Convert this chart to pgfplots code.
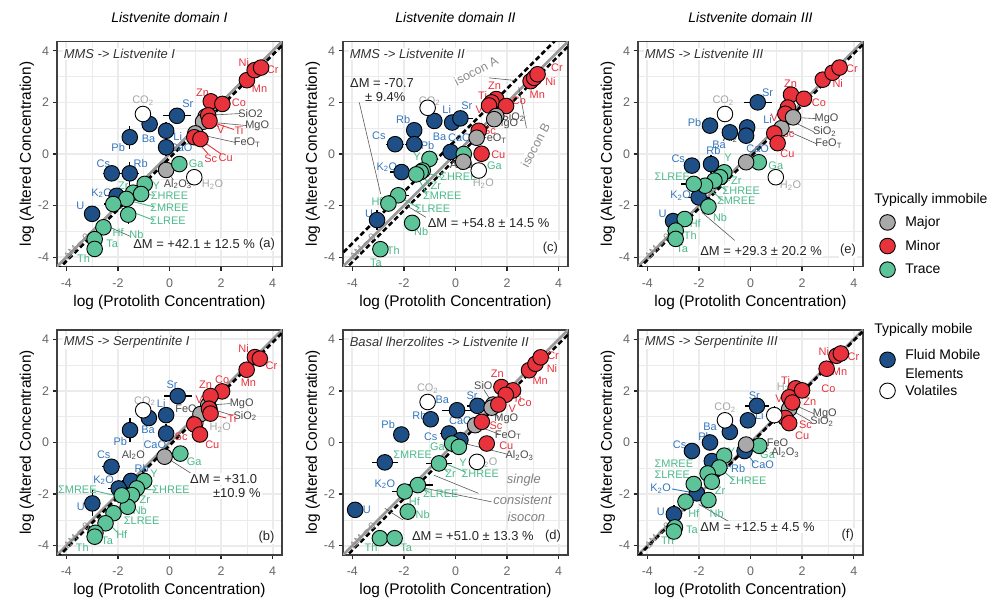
\documentclass[border=0pt]{standalone}
\usepackage{fontspec}
\setmainfont{Liberation Sans}
\usepackage{pgfplots}
\pgfplotsset{compat=1.18}
\usepackage{pgfplotstable}
\definecolor{cMaj}{HTML}{A9A9A9}
\definecolor{cMin}{HTML}{E8323C}
\definecolor{cTr}{HTML}{5DC49A}
\definecolor{cFl}{HTML}{1E4F86}
\definecolor{tFl}{HTML}{3576BD}
\definecolor{tTr}{HTML}{4CB98B}
\definecolor{tMin}{HTML}{E8313B}
\definecolor{tGr}{HTML}{A6A6A6}
\definecolor{tDk}{HTML}{4A4A4A}
\newcommand\sub[1]{\textsubscript{#1}}
\newcommand\lb[4]{\node[lbl,text=#1] at (axis cs:#2,#3) {#4};}
\tikzset{lbl/.style={font=\fontsize{11}{12}\selectfont, inner sep=0pt},
  ldk/.style={draw=black!65, line width=0.6bp},
  lrd/.style={draw=tMin, line width=0.9bp},
  lgr/.style={draw=tTr, line width=0.9bp},
  lbl2/.style={draw=tFl, line width=0.9bp},
  dmtxt/.style={fill=white, inner sep=1.5bp, font=\fontsize{13}{15}\selectfont, text=black!85},
  sub/.style={fill=white, inner sep=1bp, anchor=west, font=\fontsize{13}{15}\selectfont\itshape, text=black!80},
  zlab/.style={rotate=45, font=\fontsize{10}{11}\selectfont, text=black!45}}
\pgfplotsset{
  pan/.style={
    scale only axis, width=225bp, height=225bp, anchor=north west,
    xmin=-4.36, xmax=4.36, ymin=-4.36, ymax=4.36,
    xtick={-4,-2,0,2,4}, ytick={-4,-2,0,2,4},
    minor xtick={-3,-1,1,3}, minor ytick={-3,-1,1,3},
    grid=both,
    major grid style={draw=black!8, line width=1.7bp},
    minor grid style={draw=black!8, line width=0.8bp},
    axis line style={draw=black!75, line width=1.3bp},
    tick pos=left, tick align=outside,
    major tick length=4.5bp, minor tick length=0pt,
    major tick style={draw=black!85, line width=1.3bp},
    tick label style={font=\fontsize{12.5}{14}\selectfont, text=black!60},
    xticklabel style={yshift=-4bp},
    /pgf/number format/assume math mode=true,
    xlabel={log (Protolith Concentration)},
    ylabel={log (Altered Concentration)},
    label style={font=\fontsize{15.5}{17}\selectfont},
    xlabel style={yshift=-1bp}, ylabel style={yshift=-3bp},
    title style={at={(0.5,1)}, anchor=south, yshift=9bp, font=\fontsize{14}{16}\selectfont\itshape},
    clip=true,
  },
  pts/.style={forget plot, scatter, only marks, scatter src=explicit symbolic, mark size=7.8bp,
    scatter/classes={
      J={mark=*, draw=black, fill=cMaj, line width=0.9bp},
      N={mark=*, draw=black, fill=cMin, line width=0.9bp},
      T={mark=*, draw=black, fill=cTr, line width=0.9bp},
      F={mark=*, draw=black, fill=cFl, line width=0.9bp},
      V={mark=*, draw=black, fill=white, line width=0.9bp}}},
  ebs/.style={forget plot, only marks, mark=none, error bars/.cd, x dir=both, y dir=both,
    x explicit, y explicit, error mark=none, error bar style={line width=1.3bp, draw=black}},
  zero/.style={forget plot, draw=black!40, line width=2.6bp},
  iso/.style={forget plot, draw=black, line width=2.6bp, dash pattern=on 5bp off 3bp},
  lgm/.style={only marks, mark=*, mark size=7.8bp, mark options={draw=black, fill=#1, line width=0.9bp}},
  lgd/.style={legend style={at={#1}, anchor=north west, draw=none, fill=none,
     font=\fontsize{14}{16}\selectfont, row sep=8bp,
     /tikz/every odd column/.append style={column sep=8bp}}, legend cell align=left},
}
% ---------------- data: x y ex ey class ----------------
\pgfplotstableread{
x y ex ey c
-0.13 0.26 0 0.35 F
-0.13 0.90 0 0.35 F
0.29 1.48 0.55 0.15 F
-0.77 1.16 0.25 0 F
-1.54 0.65 0 0.45 F
-2.24 -0.75 0.35 0 F
-1.54 -0.75 0.35 0.45 F
-2.05 -1.62 0.45 0 F
-3.00 -2.32 0 0 F
-1.03 1.55 0 0 V
0.96 -0.90 0 0 V
-0.13 -0.62 0 0.2 J
1.40 1.45 0 0 J
1.30 1.25 0 0 J
1.00 0.80 0 0 J
0.38 -0.39 0 0 T
-0.96 -1.16 0.2 0.2 T
-1.41 -1.50 0 0 T
-1.10 -1.55 0 0 T
-1.67 -1.74 0 0 T
-2.18 -1.94 0.35 0 T
-1.60 -2.35 0 0.35 T
-2.56 -2.84 0 0 T
-2.90 -3.30 0 0 T
-2.90 -3.68 0 0 T
1.60 2.04 0 0.25 N
2.05 1.94 0 0 N
1.50 1.50 0 0 N
1.55 1.28 0 0 N
0.96 0.65 0 0 N
1.20 0.58 0 0 N
3.00 2.86 0 0 N
3.30 3.25 0 0 N
3.55 3.35 0 0 N
}\tA
\pgfplotstableread{
x y ex ey c
-0.13 0.35 0 0.35 F
-0.13 1.06 0 0.3 F
0.32 1.80 0.55 0.25 F
-0.80 0.95 0 0 F
-1.53 0.48 0 0.45 F
-2.25 -0.94 0.35 0 F
-1.49 -1.49 0.35 0.3 F
-1.97 -1.78 0.4 0 F
-2.99 -2.36 0 0.5 F
-1.02 1.25 0 0 V
1.00 0.75 0 0 V
-0.19 -0.55 0 0.2 J
1.50 1.45 0 0 J
1.55 1.30 0 0 J
1.20 1.10 0 0 J
0.42 -0.43 0 0 T
-0.98 -1.49 0 0 T
-1.27 -1.78 0 0 T
-1.46 -2.04 0 0 T
-1.62 -2.49 0 0 T
-1.85 -2.05 0 0 T
-2.17 -2.74 0 0 T
-2.48 -3.13 0 0 T
-2.87 -3.50 0 0 T
-2.90 -3.65 0 0 T
3.31 3.31 0 0 N
3.50 3.25 0 0 N
2.99 2.82 0 0 N
2.04 1.98 0 0 N
1.59 1.80 0 0.25 N
1.53 1.31 0 0 N
1.59 1.12 0 0 N
0.96 0.70 0 0 N
1.18 0.31 0 0 N
}\tB
\pgfplotstableread{
x y ex ey c
-0.13 1.22 0 0.25 F
0.19 1.38 0.5 0 F
-0.82 1.28 0.3 0 F
-1.60 0.92 0 0.3 F
-2.34 0.38 0.35 0 F
-1.60 0.38 0.35 0 F
-0.19 0.08 0 0.35 F
-2.09 -0.70 0.45 0 F
-3.04 -2.56 0 0.4 F
-1.08 1.79 0 0 V
0.90 -0.64 0 0 V
0.32 0.00 0 0 T
-1.01 -0.19 0 0 T
-1.27 -0.64 0 0 T
-1.35 -0.70 0 0 T
-1.52 -0.79 0 0 T
-2.22 -1.60 0.4 0 T
-2.60 -1.92 0 0 T
-1.68 -2.67 0 0 T
-2.91 -3.69 0 0 T
1.58 2.13 0 0.2 N
1.40 2.00 0 0 N
1.30 1.88 0 0 N
1.96 1.86 0 0 N
0.90 0.90 0 0 N
1.01 0.01 0 0 N
2.91 2.82 0 0 N
3.05 2.95 0 0 N
3.18 3.09 0 0 N
0.30 -0.30 0 0 J
1.58 1.47 0 0 J
1.50 1.35 0 0 J
0.82 0.63 0 0 J
}\tC
\pgfplotstableread{
x y ex ey c
-2.10 0.31 0 0.25 F
-2.74 -0.77 0.5 0 F
-3.89 -2.61 0 0.3 F
-0.96 0.90 0 0.3 F
0.06 1.25 0.6 0 F
0.85 1.42 0.4 0 F
-0.25 0.35 0.35 0 F
0.19 0.09 0 0 F
-1.08 1.57 0 0 V
0.83 -0.75 0 0 V
-0.13 -0.04 0 0 T
0.13 -0.17 0 0 T
-0.64 -0.81 0.5 0 T
-1.46 -1.65 0.6 0 T
-1.97 -1.90 0.5 0 T
-1.85 -2.68 0 0 T
-2.93 -3.71 0 0.2 T
-2.36 -3.71 0 0.25 T
1.46 1.47 0 0 J
1.40 1.35 0 0 J
0.76 0.67 0 0 J
1.78 2.15 0 0 N
2.23 2.02 0 0 N
1.95 1.85 0 0 N
1.66 1.47 0 0 N
1.02 0.80 0 0 N
1.21 -0.04 0 0 N
2.85 2.80 0 0 N
3.10 3.05 0 0 N
3.30 3.30 0 0 N
}\tD
\pgfplotstableread{
x y ex ey c
0.28 2.00 0.55 0.2 F
-1.57 1.10 0 0.3 F
-0.80 0.84 0 0 F
-0.13 1.03 0 0.3 F
-0.17 0.71 0 0 F
-2.27 -0.45 0.3 0 F
-1.53 -0.39 0.3 0.35 F
-2.01 -1.68 0.4 0 F
-3.00 -2.60 0.25 0 F
-0.99 1.55 0 0 V
0.98 -0.90 0 0 V
0.32 -0.32 0 0 T
-1.02 -0.71 0 0 T
-1.18 -0.90 0 0 T
-1.40 -1.03 0 0 T
-1.76 -1.23 0 0 T
-2.20 -1.16 0.5 0 T
-1.63 -2.04 0 0 T
-2.55 -2.52 0 0 T
-2.90 -2.97 0 0 T
-2.90 -3.29 0 0 T
-0.17 -0.32 0 0 J
1.20 1.00 0 0 J
1.57 2.30 0 0.2 N
2.07 2.14 0 0 N
1.45 1.80 0 0 N
1.35 1.56 0 0 N
0.92 0.80 0 0 N
1.05 0.42 0 0 N
2.80 2.88 0 0 N
3.18 3.15 0 0 N
3.45 3.35 0 0 N
1.65 1.42 0 0 J
}\tE
\pgfplotstableread{
x y ex ey c
0.25 1.42 0.45 0 F
-0.10 0.86 0 0 F
-0.80 0.41 0 0 F
-1.57 0.00 0 0.3 F
-2.27 -0.33 0.3 0 F
-1.50 -0.72 0 0.3 F
-0.23 -0.33 0 0.3 F
-2.08 -1.97 0 0 F
-2.97 -2.78 0 0.35 F
-0.99 0.86 0 0 V
0.34 -0.13 0 0 T
-1.02 -0.51 0 0 T
-1.21 -0.97 0 0 T
-1.66 -1.20 0 0 T
-1.50 -1.52 0 0 T
-2.20 -1.61 0.3 0 T
-2.52 -2.29 0 0 T
-1.63 -2.23 0 0.2 T
-2.93 -3.29 0 0 T
-2.97 -3.45 0 0 T
-0.17 -0.08 0 0.3 J
1.60 1.50 0 0 J
1.50 1.30 0 0 J
1.75 2.10 0 0 N
1.50 1.75 0 0 N
1.62 1.55 0 0 N
2.00 2.02 0 0 N
1.35 0.95 0 0 N
1.50 0.75 0 0 N
2.95 2.86 0 0 N
3.33 3.36 0 0 N
3.50 3.45 0 0 N
0.92 1.06 0.3 0.35 V
}\tF
\begin{document}
\begin{tikzpicture}
\useasboundingbox (0bp,0bp) rectangle (1008bp,602bp);
% ======================= (a) =======================
\begin{axis}[pan, at={(57bp,560.5bp)}, title={Listvenite domain I}]
\addplot[zero] coordinates {(-5,-5) (5,5)};
\addplot[iso] coordinates {(-5,-5.153) (5,4.847)};
\draw[ldk] (axis cs:1.5,1.5) -- (axis cs:2.75,1.57);
\draw[ldk] (axis cs:1.4,1.25) -- (axis cs:3.0,1.1);
\draw[ldk] (axis cs:1.05,0.78) -- (axis cs:2.55,0.45);
\draw[lrd] (axis cs:1.6,1.25) -- (axis cs:2.5,0.95);
\draw[lrd] (axis cs:1.5,1.45) -- (axis cs:1.9,1.05);
\draw[lrd] (axis cs:0.96,0.6) -- (axis cs:1.5,0.0);
\draw[lrd] (axis cs:1.2,0.55) -- (axis cs:2.0,0.0);
\draw[lgr] (axis cs:-1.0,-1.55) -- (axis cs:-0.6,-1.6);
\draw[lgr] (axis cs:-1.6,-1.8) -- (axis cs:-0.6,-2.05);
\draw[lgr] (axis cs:-2.1,-2.0) -- (axis cs:-0.65,-2.55);
\draw[ldk] (axis cs:-0.1,-0.65) -- (axis cs:0.15,-1.0);
\draw[ldk] (axis cs:-2.4,-2.8) -- (axis cs:-1.5,-3.2);
\addplot[ebs] table[x error=ex, y error=ey] {\tA};
\addplot[pts] table[meta=c] {\tA};
\node[sub] at (rel axis cs:0.025,0.945) {MMS -> Listvenite I};
\lb{tMin}{2.88}{3.55}{Ni}
\lb{tMin}{4.0}{3.25}{Cr}
\lb{tMin}{3.49}{2.52}{Mn}
\lb{tMin}{1.28}{2.39}{Zn}
\lb{tMin}{2.69}{2.0}{Co}
\lb{tDk}{3.14}{1.57}{SiO2}
\lb{tDk}{3.4}{1.1}{MgO}
\lb{tMin}{2.69}{0.9}{Ti}
\lb{tMin}{1.99}{0.95}{V}
\lb{tDk}{3.01}{0.45}{FeO\sub{T}}
\lb{tMin}{1.6}{-0.19}{Sc}
\lb{tMin}{2.18}{-0.13}{Cu}
\lb{tGr}{-1.03}{2.06}{CO\sub{2}}
\lb{tFl}{0.71}{1.94}{Sr}
\lb{tFl}{-0.81}{0.58}{Ba}
\lb{tFl}{0.32}{0.67}{Li}
\lb{tFl}{-1.99}{0.26}{Pb}
\lb{tFl}{0.45}{0.26}{CaO}
\lb{tFl}{-2.56}{-0.36}{Cs}
\lb{tFl}{-1.12}{-0.36}{Rb}
\lb{tTr}{1.03}{-0.39}{Ga}
\lb{tDk}{0.32}{-1.16}{Al\sub{2}O\sub{3}}
\lb{tGr}{1.67}{-1.19}{H\sub{2}O}
\lb{tFl}{-2.63}{-1.52}{K\sub{2}O}
\lb{tTr}{-1.79}{-1.23}{Zr}
\lb{tTr}{-0.51}{-1.23}{Y}
\lb{tTr}{0.0}{-1.61}{ΣHREE}
\lb{tTr}{0.0}{-2.1}{ΣMREE}
\lb{tTr}{-0.06}{-2.58}{ΣLREE}
\lb{tFl}{-3.46}{-2.0}{U}
\lb{tTr}{-1.99}{-3.03}{Hf}
\lb{tTr}{-1.28}{-3.12}{Nb}
\lb{tTr}{-2.22}{-3.48}{Ta}
\lb{tTr}{-3.33}{-4.06}{Th}
\node[zlab] at (axis cs:-3.6,-3.6) {ΔM = 0};
\node[dmtxt, anchor=west] at (axis cs:-1.47,-3.48) {ΔM = +42.1 ± 12.5 \%};
\node[dmtxt] at (axis cs:3.78,-3.48) {(a)};
\end{axis}
% ======================= (c) =======================
\begin{axis}[pan, at={(343bp,560.5bp)}, title={Listvenite domain II}]
\addplot[zero] coordinates {(-5,-5) (5,5)};
\addplot[iso] coordinates {(-5,-4.467) (5,5.533)};
\addplot[iso] coordinates {(-5,-5.19) (5,4.81)};
\draw[ldk] (axis cs:-3.73,2.0) -- (axis cs:-2.9,-1.55);
\draw[ldk] (axis cs:-1.9,-2.0) -- (axis cs:-0.9,-2.6);
\draw[ldk] (axis cs:1.3,2.95) -- (axis cs:2.3,2.85);
\draw[ldk] (axis cs:2.75,1.0) -- (axis cs:2.45,2.6);
\draw[ldk] (axis cs:1.6,1.45) -- (axis cs:1.9,1.43);
\draw[ldk] (axis cs:1.5,1.3) -- (axis cs:1.7,1.2);
\draw[ldk] (axis cs:0.85,0.6) -- (axis cs:1.1,0.59);
\draw[lgr] (axis cs:-1.25,-0.7) -- (axis cs:-0.55,-0.9);
\draw[lgr] (axis cs:-1.35,-0.75) -- (axis cs:-1.0,-1.2);
\draw[lgr] (axis cs:-1.5,-0.85) -- (axis cs:-1.1,-1.55);
\draw[lgr] (axis cs:-2.2,-1.65) -- (axis cs:-1.4,-2.1);
\addplot[ebs] table[x error=ex, y error=ey] {\tC};
\addplot[pts] table[meta=c] {\tC};
\node[sub] at (rel axis cs:0.025,0.945) {MMS -> Listvenite II};
\node[dmtxt, fill=none] at (axis cs:-2.85,2.76) {ΔM = -70.7};
\node[dmtxt, fill=none] at (axis cs:-2.72,2.21) {± 9.4\%};
\node[fill=white, inner sep=1bp, rotate=28, font=\fontsize{12.5}{14}\selectfont, text=black!45] at (axis cs:0.8,3.22) {isocon A};
\node[fill=white, inner sep=1bp, rotate=62, font=\fontsize{12.5}{14}\selectfont, text=black!45] at (axis cs:3.1,0.35) {isocon B};
\lb{tFl}{-0.34}{1.73}{Li}
\lb{tFl}{0.44}{1.86}{Sr}
\lb{tGr}{-1.01}{2.05}{CO\sub{2}}
\lb{tFl}{-2.03}{1.35}{Rb}
\lb{tFl}{-2.97}{0.71}{Cs}
\lb{tFl}{-1.08}{0.32}{Pb}
\lb{tFl}{-0.62}{0.67}{Ba}
\lb{tFl}{0.15}{0.64}{CaO}
\lb{tFl}{-2.66}{-0.51}{K\sub{2}O}
\lb{tTr}{-1.49}{-0.1}{Y}
\lb{tDk}{0.32}{-0.45}{Al\sub{2}O\sub{3}}
\lb{tTr}{0.13}{-0.9}{ΣHREE}
\lb{tTr}{-0.76}{-1.22}{Zr}
\lb{tTr}{-0.51}{-1.6}{ΣMREE}
\lb{tTr}{-0.89}{-2.12}{ΣLREE}
\lb{tTr}{-3.04}{-1.86}{Hf}
\lb{tFl}{-3.35}{-2.31}{U}
\lb{tTr}{-1.33}{-3.01}{Nb}
\lb{tTr}{-2.41}{-3.75}{Th}
\lb{tTr}{-3.08}{-4.2}{Ta}
\lb{tMin}{3.93}{3.36}{Cr}
\lb{tMin}{3.68}{2.82}{Ni}
\lb{tMin}{3.17}{2.31}{Mn}
\lb{tMin}{1.51}{2.63}{Zn}
\lb{tMin}{1.05}{2.28}{Ti}
\lb{tMin}{0.92}{1.73}{V}
\lb{tMin}{2.46}{2.05}{Co}
\lb{tDk}{2.23}{1.43}{SiO\sub{2}}
\lb{tDk}{1.97}{1.18}{MgO}
\lb{tMin}{1.32}{0.9}{Sc}
\lb{tDk}{1.47}{0.59}{FeO\sub{T}}
\lb{tMin}{1.66}{-0.03}{Cu}
\lb{tTr}{1.51}{-0.45}{Ga}
\lb{tGr}{1.08}{-1.14}{H\sub{2}O}
\node[zlab] at (axis cs:-3.6,-3.6) {ΔM = 0};
\node[dmtxt, anchor=west] at (axis cs:-1.14,-2.69) {ΔM = +54.8 ± 14.5 \%};
\node[dmtxt] at (axis cs:3.68,-3.64) {(c)};
\end{axis}
% ======================= (e) =======================
\begin{axis}[pan, at={(638bp,560.5bp)}, title={Listvenite domain III}, lgd={(1.057,0.345)}]
\addplot[zero] coordinates {(-5,-5) (5,5)};
\addplot[iso] coordinates {(-5,-5.111) (5,4.889)};
\draw[ldk] (axis cs:-1.89,-2.26) -- (axis cs:-0.61,-3.35);
\draw[ldk] (axis cs:1.65,1.42) -- (axis cs:2.55,1.37);
\draw[ldk] (axis cs:1.55,1.3) -- (axis cs:2.45,0.86);
\draw[ldk] (axis cs:1.2,1.0) -- (axis cs:2.55,0.4);
\draw[lgr] (axis cs:-1.2,-0.9) -- (axis cs:-0.8,-1.03);
\draw[lgr] (axis cs:-1.4,-1.03) -- (axis cs:-0.95,-1.42);
\draw[lgr] (axis cs:-1.76,-1.23) -- (axis cs:-1.05,-1.81);
\draw[lrd] (axis cs:1.35,1.56) -- (axis cs:1.4,1.75);
\addplot[ebs] table[x error=ex, y error=ey] {\tE};
\addplot[pts] table[meta=c] {\tE};
\node[sub] at (rel axis cs:0.025,0.945) {MMS -> Listvenite III};
\lb{tFl}{0.66}{2.39}{Sr}
\lb{tGr}{-1.06}{2.06}{CO\sub{2}}
\lb{tMin}{1.55}{2.71}{Zn}
\lb{tMin}{1.43}{1.9}{Ti}
\lb{tMin}{0.92}{1.39}{V}
\lb{tFl}{-2.17}{1.23}{Pb}
\lb{tFl}{0.66}{1.32}{Li}
\lb{tFl}{-1.22}{0.36}{Ba}
\lb{tDk}{-0.62}{0.62}{Al\sub{2}O}
\lb{tFl}{0.28}{0.19}{CaO}
\lb{tMin}{1.45}{0.8}{Sc}
\lb{tMin}{1.43}{0.0}{Cu}
\lb{tFl}{-2.8}{-0.19}{Cs}
\lb{tFl}{-1.44}{0.13}{Rb}
\lb{tTr}{-0.87}{-0.13}{Y}
\lb{tTr}{0.98}{-0.45}{Ga}
\lb{tGr}{1.55}{-1.23}{H\sub{2}O}
\lb{tTr}{-3.03}{-0.9}{ΣLREE}
\lb{tTr}{-0.55}{-1.03}{Zr}
\lb{tTr}{-0.36}{-1.42}{ΣHREE}
\lb{tTr}{-0.55}{-1.81}{ΣMREE}
\lb{tFl}{-2.71}{-1.61}{K\sub{2}O}
\lb{tTr}{-1.18}{-2.45}{Nb}
\lb{tFl}{-3.41}{-2.32}{U}
\lb{tTr}{-2.14}{-2.71}{Hf}
\lb{tTr}{-2.33}{-3.16}{Th}
\lb{tTr}{-2.65}{-3.68}{Ta}
\lb{tDk}{2.95}{1.37}{MgO}
\lb{tDk}{2.87}{0.86}{SiO\sub{2}}
\lb{tDk}{3.03}{0.4}{FeO\sub{T}}
\lb{tMin}{2.65}{1.99}{Co}
\lb{tMin}{3.38}{2.73}{Ni}
\lb{tMin}{3.93}{3.31}{Cr}
\node[zlab] at (axis cs:-3.6,-3.6) {ΔM = 0};
\node[dmtxt, anchor=west] at (axis cs:-2.01,-3.75) {ΔM = +29.3 ± 20.2 \%};
\node[dmtxt] at (axis cs:3.78,-3.72) {(e)};
\addlegendimage{empty legend}\addlegendentry{\hspace*{-31bp}Typically immobile}
\addlegendimage{lgm=cMaj}\addlegendentry{Major}
\addlegendimage{lgm=cMin}\addlegendentry{Minor}
\addlegendimage{lgm=cTr}\addlegendentry{Trace}
\end{axis}
% ======================= (b) =======================
\begin{axis}[pan, at={(57bp,272bp)}]
\addplot[zero] coordinates {(-5,-5) (5,5)};
\addplot[iso] coordinates {(-5,-5.117) (5,4.883)};
\draw[ldk] (axis cs:-0.1,-0.6) -- (axis cs:1.0,-1.3);
\draw[ldk] (axis cs:1.6,1.45) -- (axis cs:2.35,1.51);
\draw[ldk] (axis cs:1.6,1.3) -- (axis cs:2.45,1.05);
\draw[lrd] (axis cs:1.6,1.1) -- (axis cs:2.2,0.95);
\draw[lgr] (axis cs:-3.0,-1.85) -- (axis cs:-1.9,-2.1);
\draw[lgr] (axis cs:-1.2,-1.8) -- (axis cs:-0.55,-1.84);
\draw[lgr] (axis cs:-2.4,-3.1) -- (axis cs:-2.0,-3.5);
\addplot[ebs] table[x error=ex, y error=ey] {\tB};
\addplot[pts] table[meta=c] {\tB};
\node[sub] at (rel axis cs:0.025,0.945) {MMS -> Serpentinite I};
\lb{tMin}{2.87}{3.63}{Ni}
\lb{tMin}{3.95}{2.96}{Cr}
\lb{tMin}{3.06}{2.32}{Mn}
\lb{tMin}{2.04}{2.44}{Co}
\lb{tMin}{1.4}{2.22}{Zn}
\lb{tDk}{2.8}{1.51}{MgO}
\lb{tDk}{2.93}{1.03}{SiO\sub{2}}
\lb{tMin}{1.15}{1.64}{V}
\lb{tDk}{0.64}{1.31}{FeO}
\lb{tMin}{2.42}{0.93}{Ti}
\lb{tGr}{1.97}{0.58}{H\sub{2}O}
\lb{tMin}{0.45}{0.22}{Sc}
\lb{tMin}{1.66}{-0.1}{Cu}
\lb{tFl}{0.1}{2.22}{Sr}
\lb{tGr}{-0.96}{1.6}{CO\sub{2}}
\lb{tFl}{-0.32}{1.51}{Li}
\lb{tFl}{-0.83}{0.48}{Ba}
\lb{tFl}{-1.91}{0.03}{Pb}
\lb{tFl}{-0.57}{-0.1}{CaO}
\lb{tDk}{-1.4}{-0.49}{Al\sub{2}O}
\lb{tTr}{0.96}{-0.75}{Ga}
\lb{tFl}{-2.55}{-0.49}{Cs}
\lb{tFl}{-1.08}{-1.0}{Rb}
\lb{tTr}{-0.6}{-1.22}{Y}
\lb{tFl}{-2.55}{-1.46}{K\sub{2}O}
\lb{tTr}{-3.57}{-1.84}{ΣMREE}
\lb{tTr}{0.06}{-1.84}{ΣHREE}
\lb{tTr}{-0.96}{-2.23}{Zr}
\lb{tTr}{-1.15}{-2.65}{Nb}
\lb{tTr}{-1.08}{-3.04}{ΣLREE}
\lb{tFl}{-3.44}{-2.49}{U}
\lb{tTr}{-1.85}{-3.56}{Hf}
\lb{tTr}{-2.42}{-3.81}{Ta}
\lb{tTr}{-3.38}{-4.07}{Th}
\node[zlab] at (axis cs:-3.6,-3.6) {ΔM = 0};
\node[dmtxt] at (axis cs:2.1,-1.42) {ΔM = +31.0};
\node[dmtxt] at (axis cs:2.61,-1.97) {±10.9 \%};
\node[dmtxt] at (axis cs:3.76,-3.65) {(b)};
\end{axis}
% ======================= (d) =======================
\begin{axis}[pan, at={(343bp,272bp)}]
\addplot[zero] coordinates {(-5,-5) (5,5)};
\addplot[iso] coordinates {(-5,-5.179) (5,4.821)};
\draw[ldk] (axis cs:0.89,-1.97) -- (axis cs:-0.83,-1.27);
\draw[ldk] (axis cs:1.4,-2.3) -- (axis cs:-1.3,-1.75);
\draw[ldk] (axis cs:-2.04,-3.0) -- (axis cs:-2.74,-2.55);
\draw[ldk] (axis cs:1.46,1.47) -- (axis cs:1.1,2.05);
\draw[ldk] (axis cs:1.4,1.35) -- (axis cs:1.7,0.95);
\draw[ldk] (axis cs:0.76,0.67) -- (axis cs:1.7,0.32);
\draw[ldk] (axis cs:0.2,0.0) -- (axis cs:2.0,-0.45);
\draw[lgr] (axis cs:-0.64,-0.81) -- (axis cs:-0.3,-1.15);
\draw[lgr] (axis cs:-0.55,-0.75) -- (axis cs:0.4,-1.15);
\draw[lgr] (axis cs:-1.46,-1.65) -- (axis cs:-1.0,-1.95);
\addplot[ebs] table[x error=ex, y error=ey] {\tD};
\addplot[pts] table[meta=c] {\tD};
\node[sub] at (rel axis cs:0.025,0.945) {Basal lherzolites -> Listvenite II};
\lb{tGr}{-1.08}{2.08}{CO\sub{2}}
\lb{tFl}{-0.51}{1.66}{Ba}
\lb{tFl}{0.64}{1.8}{Sr}
\lb{tDk}{1.08}{2.21}{SiO}
\lb{tMin}{1.62}{2.66}{Zn}
\lb{tMin}{2.39}{1.72}{Ti}
\lb{tMin}{2.68}{1.53}{Co}
\lb{tMin}{2.2}{1.31}{V}
\lb{tDk}{1.97}{0.9}{MgO}
\lb{tMin}{1.57}{0.64}{Sc}
\lb{tDk}{2.04}{0.28}{FeO\sub{T}}
\lb{tMin}{1.97}{-0.13}{Cu}
\lb{tDk}{2.48}{-0.51}{Al\sub{2}O\sub{3}}
\lb{tGr}{1.21}{-0.77}{H\sub{2}O}
\lb{tFl}{-1.4}{1.06}{Rb}
\lb{tFl}{-2.61}{0.7}{Pb}
\lb{tFl}{0.19}{0.86}{CaO}
\lb{tFl}{-0.96}{0.22}{Cs}
\lb{tTr}{-0.7}{-0.17}{Ga}
\lb{tTr}{-1.66}{-0.46}{ΣMREE}
\lb{tTr}{0.29}{-0.77}{Y}
\lb{tFl}{-2.74}{-1.62}{K\sub{2}O}
\lb{tTr}{-0.19}{-1.2}{Zr}
\lb{tTr}{0.96}{-1.2}{ΣHREE}
\lb{tTr}{-0.57}{-1.97}{ΣLREE}
\lb{tTr}{-1.59}{-2.27}{Hf}
\lb{tTr}{-1.27}{-2.81}{Nb}
\lb{tFl}{-3.44}{-2.61}{U}
\lb{tTr}{-3.27}{-4.09}{Th}
\lb{tTr}{-1.91}{-4.07}{Ta}
\lb{tMin}{3.78}{3.36}{Cr}
\lb{tMin}{3.74}{2.87}{Ni}
\lb{tMin}{3.28}{2.4}{Mn}
\node[font=\fontsize{13}{15}\selectfont\itshape, text=black!50, inner sep=0pt] at (axis cs:2.65,-1.45) {single};
\node[font=\fontsize{13}{15}\selectfont\itshape, text=black!50, inner sep=0pt] at (axis cs:2.6,-2.23) {consistent};
\node[font=\fontsize{13}{15}\selectfont\itshape, text=black!50, inner sep=0pt] at (axis cs:2.75,-2.9) {isocon};
\node[zlab] at (axis cs:-3.6,-3.6) {ΔM = 0};
\node[dmtxt, anchor=west] at (axis cs:-1.75,-3.64) {ΔM = +51.0 ± 13.3 \%};
\node[dmtxt] at (axis cs:3.78,-3.64) {(d)};
\end{axis}
% ======================= (f) =======================
\begin{axis}[pan, at={(638bp,272bp)}, lgd={(1.057,1.05)}, legend style={row sep=10bp}]
\addplot[zero] coordinates {(-5,-5) (5,5)};
\addplot[iso] coordinates {(-5,-5.051) (5,4.949)};
\draw[ldk] (axis cs:-2.0,-2.4) -- (axis cs:-0.6,-3.2);
\draw[lbl2] (axis cs:-1.5,-0.72) -- (axis cs:-0.75,-0.95);
\draw[lbl2] (axis cs:-0.23,-0.33) -- (axis cs:0.15,-0.8);
\draw[lbl2] (axis cs:-2.08,-1.97) -- (axis cs:-3.05,-1.8);
\draw[lgr] (axis cs:-1.21,-0.97) -- (axis cs:-0.65,-1.45);
\draw[lgr] (axis cs:0.34,-0.13) -- (axis cs:0.5,-0.45);
\draw[ldk] (axis cs:1.6,1.5) -- (axis cs:2.45,1.12);
\draw[ldk] (axis cs:1.5,1.3) -- (axis cs:2.35,0.81);
\draw[ldk] (axis cs:-0.17,-0.08) -- (axis cs:0.7,-0.25);
\addplot[ebs] table[x error=ex, y error=ey] {\tF};
\addplot[pts] table[meta=c] {\tF};
\node[sub] at (rel axis cs:0.025,0.945) {MMS -> Serpentinite III};
\lb{tFl}{0.15}{1.83}{Sr}
\lb{tGr}{1.43}{2.15}{H\sub{2}O}
\lb{tGr}{-0.99}{1.34}{CO\sub{2}}
\lb{tFl}{0.34}{1.06}{Li}
\lb{tFl}{-1.57}{0.6}{Ba}
\lb{tFl}{-1.76}{0.22}{Pb}
\lb{tFl}{-2.75}{-0.08}{Cs}
\lb{tTr}{-0.74}{-0.36}{Y}
\lb{tFl}{-0.48}{-1.0}{Rb}
\lb{tFl}{0.47}{-0.88}{CaO}
\lb{tTr}{0.66}{-0.49}{Ga}
\lb{tDk}{1.05}{-0.02}{FeO}
\lb{tDk}{1.35}{-0.4}{Al\sub{2}O\sub{3}}
\lb{tTr}{-2.97}{-0.81}{ΣMREE}
\lb{tTr}{-3.03}{-1.26}{ΣLREE}
\lb{tTr}{-0.1}{-1.49}{ΣHREE}
\lb{tFl}{-3.48}{-1.8}{K\sub{2}O}
\lb{tTr}{-1.18}{-1.88}{Zr}
\lb{tTr}{-2.2}{-2.74}{Hf}
\lb{tTr}{-1.31}{-2.74}{Nb}
\lb{tFl}{-3.48}{-2.68}{U}
\lb{tTr}{-2.27}{-3.38}{Ta}
\lb{tTr}{-3.22}{-3.81}{Th}
\lb{tMin}{1.36}{2.41}{Ti}
\lb{tMin}{1.11}{1.7}{V}
\lb{tMin}{2.3}{1.58}{Zn}
\lb{tMin}{2.13}{0.69}{Sc}
\lb{tMin}{2.0}{0.28}{Cu}
\lb{tMin}{3.02}{2.08}{Co}
\lb{tMin}{3.45}{2.74}{Mn}
\lb{tMin}{2.84}{3.51}{Ni}
\lb{tMin}{3.99}{3.32}{Cr}
\lb{tDk}{2.88}{1.12}{MgO}
\lb{tDk}{2.77}{0.81}{SiO\sub{2}}
\node[zlab] at (axis cs:-3.6,-3.6) {ΔM = 0};
\node[dmtxt, anchor=west] at (axis cs:-2.01,-3.29) {ΔM = +12.5 ± 4.5 \%};
\node[dmtxt] at (axis cs:3.77,-3.6) {(f)};
\addlegendimage{empty legend}\addlegendentry{\hspace*{-31bp}Typically mobile}
\addlegendimage{lgm=cFl}\addlegendentry{\begin{tabular}{@{}l@{}}Fluid Mobile\\[3bp]Elements\end{tabular}}
\addlegendimage{lgm=white}\addlegendentry{Volatiles}
\end{axis}
\end{tikzpicture}
\end{document}
